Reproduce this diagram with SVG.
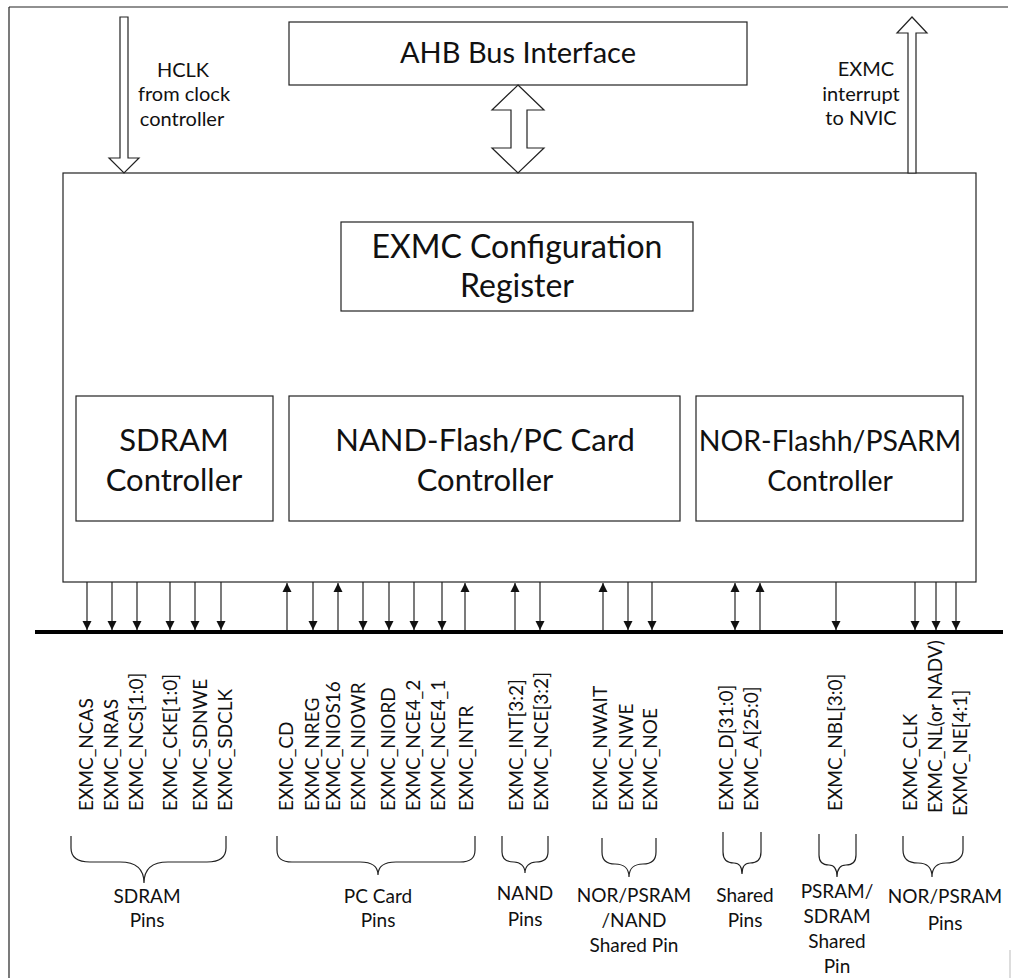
<svg xmlns="http://www.w3.org/2000/svg" width="1011" height="978" viewBox="0 0 1011 978">
<style>
.box{fill:#fff;stroke:#222;stroke-width:1.2}
.big{font-family:Lato,"Liberation Sans",sans-serif;font-size:29px;fill:#111;text-anchor:middle}
.mid{font-family:Lato,"Liberation Sans",sans-serif;font-size:19px;fill:#111;text-anchor:middle}
.side{font-family:Lato,"Liberation Sans",sans-serif;font-size:20px;fill:#111;text-anchor:middle}
.pin{font-family:Lato,"Liberation Sans",sans-serif;font-size:19px;fill:#111}
.sig{stroke:#222;stroke-width:1.2;fill:none}
.brace{fill:none;stroke:#222;stroke-width:1.2}
.hollow{fill:#fff;stroke:#222;stroke-width:1.2}
</style>
<defs>
<marker id="ah" markerWidth="10" markerHeight="10" refX="9" refY="5" orient="auto" markerUnits="userSpaceOnUse">
<path d="M0,0.5 L9,5 L0,9.5 Z" fill="#111"/>
</marker>
<marker id="ahs" markerWidth="10" markerHeight="10" refX="9" refY="5" orient="auto-start-reverse" markerUnits="userSpaceOnUse">
<path d="M0,0.5 L9,5 L0,9.5 Z" fill="#111"/>
</marker>
</defs>
<rect width="1011" height="978" fill="#fff"/>
<g id="frame">
<line x1="9" y1="7" x2="1008" y2="7" stroke="#222" stroke-width="1.2"/>
<line x1="9" y1="7" x2="9" y2="978" stroke="#222" stroke-width="1.2"/>
<line x1="1010" y1="950" x2="1010" y2="978" stroke="#bbb" stroke-width="1"/>
</g>
<g id="ahb">
<rect class="box" x="289" y="22" width="458" height="63"/>
<text class="big" x="518" y="63">AHB Bus Interface</text>
</g>
<g id="exmc">
<rect class="box" x="63" y="173" width="913" height="409"/>
</g>
<g id="config">
<rect class="box" x="341" y="222" width="352" height="89"/>
<text class="big" x="517" y="258" style="font-size:32px">EXMC Configuration</text>
<text class="big" x="517" y="297" style="font-size:32px">Register</text>
</g>
<g id="sdram">
<rect class="box" x="76" y="396" width="197" height="125"/>
<text class="big" x="174" y="451" style="font-size:31px">SDRAM</text>
<text class="big" x="174" y="491" style="font-size:31px">Controller</text>
</g>
<g id="nand">
<rect class="box" x="289" y="396" width="391" height="125"/>
<text class="big" x="485" y="451" style="font-size:31px">NAND-Flash/PC Card</text>
<text class="big" x="485" y="491" style="font-size:31px">Controller</text>
</g>
<g id="nor">
<rect class="box" x="696" y="396" width="267" height="125"/>
<text class="big" x="830" y="451" style="font-size:28.5px">NOR-Flashh/PSARM</text>
<text class="big" x="830" y="491" style="font-size:28.5px">Controller</text>
</g>
<g id="hclk">
<polygon class="hollow" points="120,17 128,17 128,158 139,158 124,173 109,158 120,158"/>
<text class="side" x="183" y="77">HCLK</text>
<text class="side" x="184" y="101">from clock</text>
<text class="side" x="182" y="126">controller</text>
</g>
<g id="irq">
<polygon class="hollow" points="908,173 908,33 897,33 912,17 927,33 916,33 916,173"/>
<text class="side" x="866" y="76">EXMC</text>
<text class="side" x="861" y="101">interrupt</text>
<text class="side" x="861" y="125">to NVIC</text>
</g>
<g id="connectors">
<polygon class="hollow" points="518,85 544,110 527,110 527,148 544,148 518,173 492,148 511,148 511,110 492,110"/>
<line x1="35" y1="632" x2="1003" y2="632" stroke="#000" stroke-width="4"/>
<g class="sig" marker-end="url(#ah)">
<line x1="87" y1="582" x2="87" y2="630"/>
<line x1="112" y1="582" x2="112" y2="630"/>
<line x1="137" y1="582" x2="137" y2="630"/>
<line x1="170" y1="582" x2="170" y2="630"/>
<line x1="195" y1="582" x2="195" y2="630"/>
<line x1="221" y1="582" x2="221" y2="630"/>
<line x1="287" y1="630" x2="287" y2="583"/>
<line x1="313" y1="582" x2="313" y2="630"/>
<line x1="338" y1="630" x2="338" y2="583"/>
<line x1="363" y1="582" x2="363" y2="630"/>
<line x1="389" y1="582" x2="389" y2="630"/>
<line x1="414" y1="582" x2="414" y2="630"/>
<line x1="442" y1="582" x2="442" y2="630"/>
<line x1="465" y1="630" x2="465" y2="583"/>
<line x1="515" y1="630" x2="515" y2="583"/>
<line x1="540" y1="582" x2="540" y2="630"/>
<line x1="603" y1="630" x2="603" y2="583"/>
<line x1="628" y1="582" x2="628" y2="630"/>
<line x1="652" y1="582" x2="652" y2="630"/>
<line x1="735" y1="583" x2="735" y2="630" marker-start="url(#ahs)"/>
<line x1="760" y1="630" x2="760" y2="583"/>
<line x1="836" y1="582" x2="836" y2="630"/>
<line x1="915" y1="582" x2="915" y2="630"/>
<line x1="936" y1="582" x2="936" y2="630"/>
<line x1="956" y1="582" x2="956" y2="630"/>
</g>
</g>
<g id="pins">
<text class="pin" transform="translate(93,811) rotate(-90)">EXMC_NCAS</text>
<text class="pin" transform="translate(118,811) rotate(-90)">EXMC_NRAS</text>
<text class="pin" transform="translate(143,811) rotate(-90)">EXMC_NCS[1:0]</text>
<text class="pin" transform="translate(177,811) rotate(-90)">EXMC_CKE[1:0]</text>
<text class="pin" transform="translate(207,811) rotate(-90)">EXMC_SDNWE</text>
<text class="pin" transform="translate(232,811) rotate(-90)">EXMC_SDCLK</text>
<text class="pin" transform="translate(293,811) rotate(-90)">EXMC_CD</text>
<text class="pin" transform="translate(319,811) rotate(-90)">EXMC_NREG</text>
<text class="pin" transform="translate(340,811) rotate(-90)">EXMC_NIOS16</text>
<text class="pin" transform="translate(365,811) rotate(-90)">EXMC_NIOWR</text>
<text class="pin" transform="translate(395,811) rotate(-90)">EXMC_NIORD</text>
<text class="pin" transform="translate(420,811) rotate(-90)">EXMC_NCE4_2</text>
<text class="pin" transform="translate(445,811) rotate(-90)">EXMC_NCE4_1</text>
<text class="pin" transform="translate(473,811) rotate(-90)">EXMC_INTR</text>
<text class="pin" transform="translate(523,811) rotate(-90)">EXMC_INT[3:2]</text>
<text class="pin" transform="translate(548,811) rotate(-90)">EXMC_NCE[3:2]</text>
<text class="pin" transform="translate(607,811) rotate(-90)">EXMC_NWAIT</text>
<text class="pin" transform="translate(633,811) rotate(-90)">EXMC_NWE</text>
<text class="pin" transform="translate(657,811) rotate(-90)">EXMC_NOE</text>
<text class="pin" transform="translate(733,811) rotate(-90)">EXMC_D[31:0]</text>
<text class="pin" transform="translate(758,811) rotate(-90)">EXMC_A[25:0]</text>
<text class="pin" transform="translate(842,811) rotate(-90)">EXMC_NBL[3:0]</text>
<text class="pin" transform="translate(917,811) rotate(-90)">EXMC_CLK</text>
<text class="pin" transform="translate(942,813) rotate(-90)">EXMC_NL(or NADV)</text>
<text class="pin" transform="translate(967,816) rotate(-90)">EXMC_NE[4:1]</text>
</g>
<g id="groups">
<path class="brace" d="M71,836 L71,848 C71,857 77,862 90,862 L120,862 C134,862 144,868 144,883 C144,868 154,862 168,862 L207,862 C220,862 226,857 226,848 L226,836"/>
<text class="mid" x="147" y="903">SDRAM</text>
<text class="mid" x="147" y="927">Pins</text>
<path class="brace" d="M277,836 L277,850 C277,858 281,862 292,862 L360,862 C372,862 378,866 378,875 C378,866 384,862 396,862 L460,862 C471,862 475,858 475,850 L475,836"/>
<text class="mid" x="378" y="903">PC Card</text>
<text class="mid" x="378" y="927">Pins</text>
<path class="brace" d="M502,836 L502,852 C502,859 507,862 514,862 C520,862 525,866 525,873 C525,866 530,862 536,862 C543,862 548,859 548,852 L548,836"/>
<text class="mid" x="525" y="900">NAND</text>
<text class="mid" x="525" y="926">Pins</text>
<path class="brace" d="M602,838 L602,852 C602,860 607,864 615,864 C624,864 629,869 629,877 C629,869 634,864 643,864 C651,864 656,860 656,852 L656,838"/>
<text class="mid" x="634" y="902">NOR/PSRAM</text>
<text class="mid" x="634" y="927">/NAND</text>
<text class="mid" x="634" y="952">Shared Pin</text>
<path class="brace" d="M723,832 L723,852 C723,860 727,863 734,863 C739,863 742,867 742,874 C742,867 745,863 750,863 C757,863 761,860 761,852 L761,832"/>
<text class="mid" x="745" y="902">Shared</text>
<text class="mid" x="745" y="927">Pins</text>
<path class="brace" d="M819,834 L819,855 C819,862 823,865 829,865 C834,865 837,869 837,877 C837,869 840,865 846,865 C852,865 856,862 856,855 L856,834"/>
<text class="mid" x="837" y="898">PSRAM/</text>
<text class="mid" x="837" y="923">SDRAM</text>
<text class="mid" x="837" y="948">Shared</text>
<text class="mid" x="837" y="973">Pin</text>
<path class="brace" d="M903,836 L903,850 C903,858 908,863 918,863 C927,863 932,868 932,877 C932,868 937,863 946,863 C956,863 963,858 963,850 L963,836"/>
<text class="mid" x="945" y="903">NOR/PSRAM</text>
<text class="mid" x="945" y="930">Pins</text>
</g>
</svg>
